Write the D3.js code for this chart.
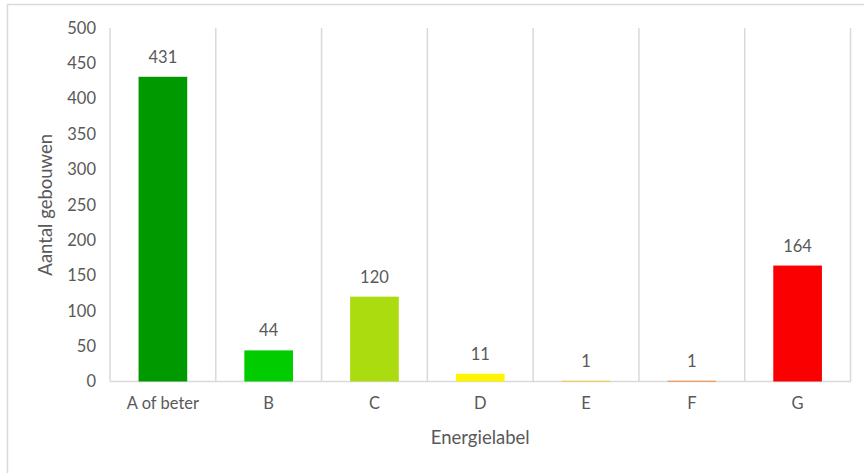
<!DOCTYPE html>
<html>
<head>
<meta charset="utf-8">
<script src="https://cdn.jsdelivr.net/npm/d3@7"></script>
<style>
  body { margin: 0; background: #fff; }
  text { font-family: Lato, "Open Sans", sans-serif; fill: #595959; }
  .grid line { stroke: #d9d9d9; stroke-width: 1.5; }
</style>
</head>
<body>
<svg id="chart" width="864" height="473"></svg>
<script>
// energy label categories and number of buildings
var labels = ["A of beter", "B", "C", "D", "E", "F", "G"];
var counts = [431, 44, 120, 11, 1, 1, 164];
var barColors = ["#009900", "#00cc00", "#aadc0f", "#fff500", "#ffc000", "#ff6600", "#fa0000"];
var yTicks = [0, 50, 100, 150, 200, 250, 300, 350, 400, 450, 500];

var svg = d3.select("#chart"),
    MARGINS = { top: 28, right: 13.5, bottom: 91.5, left: 110 },
    WIDTH = 864, HEIGHT = 473;

// outer frame (right/bottom edges fall outside the picture)
svg.append("rect")
    .attr("x", 7.5).attr("y", 4.5)
    .attr("width", 900).attr("height", 500)
    .attr("fill", "none")
    .attr("stroke", "#d9d9d9")
    .attr("stroke-width", 1.5);

var x = d3.scaleBand()
    .domain(labels)
    .range([MARGINS.left, WIDTH - MARGINS.right])
    .paddingInner(0).paddingOuter(0);

var y = d3.scaleLinear()
    .domain([0, 500])
    .range([HEIGHT - MARGINS.bottom, MARGINS.top]);

// vertical gridlines at category boundaries
var bounds = labels.map(function(d) { return x(d); }).concat([x.range()[1]]);
svg.append("g").attr("class", "grid")
    .selectAll("line").data(bounds).enter().append("line")
    .attr("x1", function(d) { return d; })
    .attr("x2", function(d) { return d; })
    .attr("y1", y(500))
    .attr("y2", y(0));

// baseline
svg.append("line")
    .attr("x1", x.range()[0]).attr("x2", x.range()[1])
    .attr("y1", y(0)).attr("y2", y(0))
    .attr("stroke", "#d9d9d9").attr("stroke-width", 1.5);

var barW = x.bandwidth() * 0.46;

svg.append("g").selectAll("rect").data(counts).enter().append("rect")
    .attr("x", function(d, i) { return x(labels[i]) + (x.bandwidth() - barW) / 2; })
    .attr("y", function(d) { return y(d); })
    .attr("width", barW)
    .attr("height", function(d) { return y(0) - y(d); })
    .attr("fill", function(d, i) { return barColors[i]; });

// value labels
svg.append("g").selectAll("text").data(counts).enter().append("text")
    .attr("x", function(d, i) { return x(labels[i]) + x.bandwidth() / 2; })
    .attr("y", function(d) { return y(d) - 14; })
    .attr("text-anchor", "middle")
    .style("font-size", "16.5px")
    .text(function(d) { return d; });

// y axis
var yAxis = d3.axisLeft(y).tickValues(yTicks).tickSize(0).tickPadding(14);
var gy = svg.append("g")
    .attr("transform", "translate(" + MARGINS.left + ",0)")
    .call(yAxis);
gy.select(".domain").remove();
gy.selectAll("text").style("font-size", "16.5px").attr("fill", "#595959");

// x axis
var xAxis = d3.axisBottom(x).tickSize(0).tickPadding(16);
var gx = svg.append("g")
    .attr("transform", "translate(0," + y(0) + ")")
    .call(xAxis);
gx.select(".domain").remove();
gx.selectAll("text").style("font-size", "16.5px").attr("fill", "#595959");

// axis titles
svg.append("text")
    .attr("transform", "translate(52," + ((y(0) + y(500)) / 2) + ") rotate(-90)")
    .attr("text-anchor", "middle")
    .style("font-size", "18.5px")
    .text("Aantal gebouwen");

svg.append("text")
    .attr("x", (x.range()[0] + x.range()[1]) / 2)
    .attr("y", 444)
    .attr("text-anchor", "middle")
    .style("font-size", "18.5px")
    .text("Energielabel");
</script>
</body>
</html>
